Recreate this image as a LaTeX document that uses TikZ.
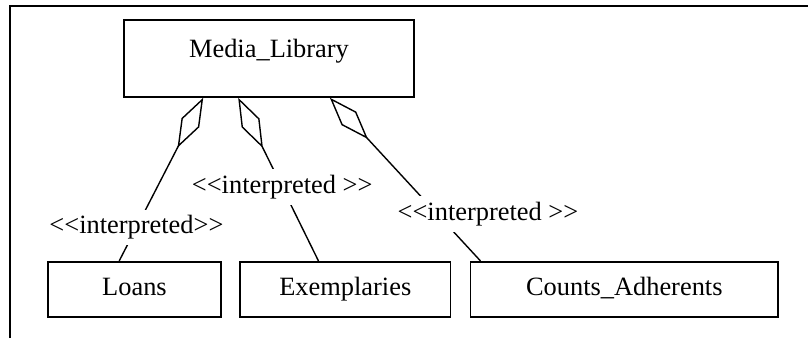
\documentclass[tikz,border=0pt]{standalone}
\usepackage{fontspec}
\setmainfont{Liberation Serif}
\usetikzlibrary{arrows.meta}
\usetikzlibrary{calc}

\begin{document}
\begin{tikzpicture}[x=1pt,y=-1pt,font=\fontsize{26.4}{30}\selectfont,
	cls/.style={draw,line width=1.6pt,inner sep=0pt,text height=18pt,text depth=6pt},
	lbl/.style={fill=white,inner sep=6pt},
	agg/.style={{Diamond[open,length=56pt,width=20pt]}-,line width=1.4pt}]

		\useasboundingbox (0,0) rectangle (808,338);
		\draw [line width=1.6pt] (10,338)--(10,6)--(808,6);

		\node [cls,minimum width=290pt,minimum height=77pt,text depth=21pt] (lib) at (269,58.5) {Media\_Library};
		\node [cls,minimum width=173pt,minimum height=55pt] (loans) at (134.5,289.2) {Loans};
		\node [cls,minimum width=210.7pt,minimum height=55pt] (exemp) at (345.3,289.2) {Exemplaries};
		\node [cls,minimum width=307.3pt,minimum height=55pt] (counts) at (624.3,289.2) {Counts\_Adherents};

		\coordinate (S1) at ($(lib.south west)+(80,0)$);
		\coordinate (S2) at ($(lib.south west)+(115,0)$);
		\coordinate (S3) at ($(lib.south west)+(206.7,0)$);
		\coordinate (E1) at ($(loans.north west)+(72,0)$);
		\coordinate (E2) at ($(exemp.north west)+(79.3,0)$);
		\coordinate (E3) at ($(counts.north west)+(10.6,0)$);

		\draw [agg] (S1) -- node [lbl,pos=0.795] (int1) {<{}<interpreted>{}>} (E1);
		\draw [agg] (S2) -- node [lbl,pos=0.548] (int2) {<{}<interpreted >{}>} (E2);
		\draw [agg] (S3) -- node [lbl,pos=0.711,xshift=51pt] (int3) {<{}<interpreted >{}>} (E3);

\end{tikzpicture}
\end{document}
